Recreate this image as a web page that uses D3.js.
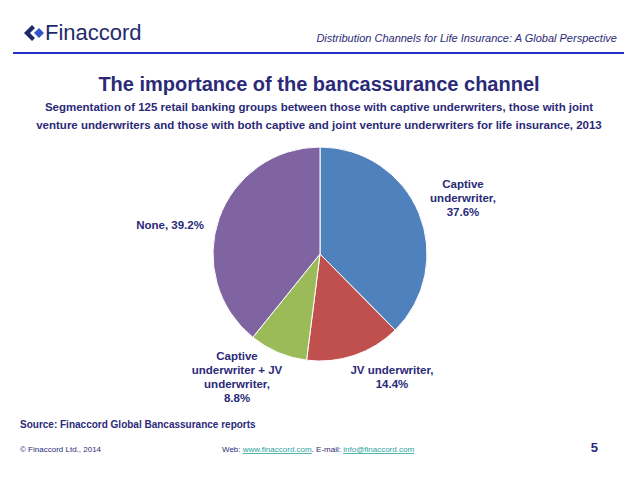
<!DOCTYPE html>
<html><head><meta charset="utf-8">
<script src="https://cdn.jsdelivr.net/npm/d3@7"></script>
<style>body{margin:0;background:#fff}text{font-family:"Liberation Sans",Arial,sans-serif}</style>
</head><body><svg width="638" height="479"></svg>
<script>
var categories = ["Captive underwriter", "JV underwriter", "Captive underwriter + JV underwriter", "None"];
var values = [37.6, 14.4, 8.8, 39.2];
var colors = ["#4F81BD", "#C0504D", "#9BBB59", "#8064A2"];
// label lines, placed by hand around the pie
var labelLines = [["Captive", "underwriter,", "37.6%"], ["JV underwriter,", "14.4%"], ["Captive", "underwriter + JV", "underwriter,", "8.8%"], ["None, 39.2%"]];
var labelPos = [[463, 210], [392, 374], [237, 360], [170, 229]];

var svg = d3.select("svg");
var navy = "#2B2A78";

// header
var logo = svg.append("g").attr("transform", "translate(24,33)");
logo.append("path").attr("d", "M0,0 L8,-8 L11,-5 L6,0 L11,5 L8,8 Z").attr("fill", "#1F2A6B");
logo.append("path").attr("d", "M10,0 L15,-5 L20,0 L15,5 Z").attr("fill", "#3355CC");
svg.append("text").attr("x", 45).attr("y", 40).attr("font-family", "Liberation Serif,serif").attr("font-size", 22).attr("fill", "#1F2A6B").text("Finaccord");
svg.append("text").attr("x", 617).attr("y", 42).attr("text-anchor", "end").attr("font-size", 11).attr("font-style", "italic").attr("fill", "#2B2A78").text("Distribution Channels for Life Insurance: A Global Perspective");
svg.append("line").attr("x1", 13).attr("x2", 624).attr("y1", 53).attr("y2", 53).attr("stroke", "#2233CC").attr("stroke-width", 2);

// titles
svg.append("text").attr("x", 319).attr("y", 91).attr("text-anchor", "middle").attr("font-size", 20).attr("font-weight", "bold").attr("fill", navy).text("The importance of the bancassurance channel");
svg.append("text").attr("x", 319).attr("y", 111).attr("text-anchor", "middle").attr("font-size", 11.5).attr("font-weight", "bold").attr("fill", navy).text("Segmentation of 125 retail banking groups between those with captive underwriters, those with joint");
svg.append("text").attr("x", 319).attr("y", 129).attr("text-anchor", "middle").attr("font-size", 11.5).attr("font-weight", "bold").attr("fill", navy).text("venture underwriters and those with both captive and joint venture underwriters for life insurance, 2013");

// pie
var pie = d3.pie().sort(null).value(function(d){ return d; });
var arc = d3.arc().innerRadius(0).outerRadius(107);
svg.append("g").attr("transform", "translate(320,254)")
  .selectAll("path").data(pie(values)).enter().append("path")
  .attr("d", arc).attr("fill", function(d, i){ return colors[i]; })
  .attr("stroke", "#fff").attr("stroke-width", 1);

labelLines.forEach(function(lines, i){
  var t = svg.append("text").attr("text-anchor", "middle").attr("font-size", 11.5).attr("font-weight", "bold").attr("fill", navy);
  lines.forEach(function(l, j){
    t.append("tspan").attr("x", labelPos[i][0]).attr("y", labelPos[i][1] - (i == 0 ? 22 : 0) + j * 14).text(l);
  });
});

// footer
svg.append("text").attr("x", 20).attr("y", 428).attr("font-size", 10).attr("font-weight", "bold").attr("fill", navy).text("Source: Finaccord Global Bancassurance reports");
svg.append("text").attr("x", 20).attr("y", 452).attr("font-size", 8).attr("fill", navy).text("© Finaccord Ltd., 2014");
var f = svg.append("text").attr("x", 222).attr("y", 452).attr("font-size", 8).attr("fill", navy);
f.append("tspan").text("Web: ");
f.append("tspan").attr("fill", "#2AA39B").attr("text-decoration", "underline").text("www.finaccord.com");
f.append("tspan").text(". E-mail: ");
f.append("tspan").attr("fill", "#2AA39B").attr("text-decoration", "underline").text("info@finaccord.com");
svg.append("text").attr("x", 598).attr("y", 452).attr("text-anchor", "end").attr("font-size", 13).attr("font-weight", "bold").attr("fill", navy).text("5");
</script></body></html>
